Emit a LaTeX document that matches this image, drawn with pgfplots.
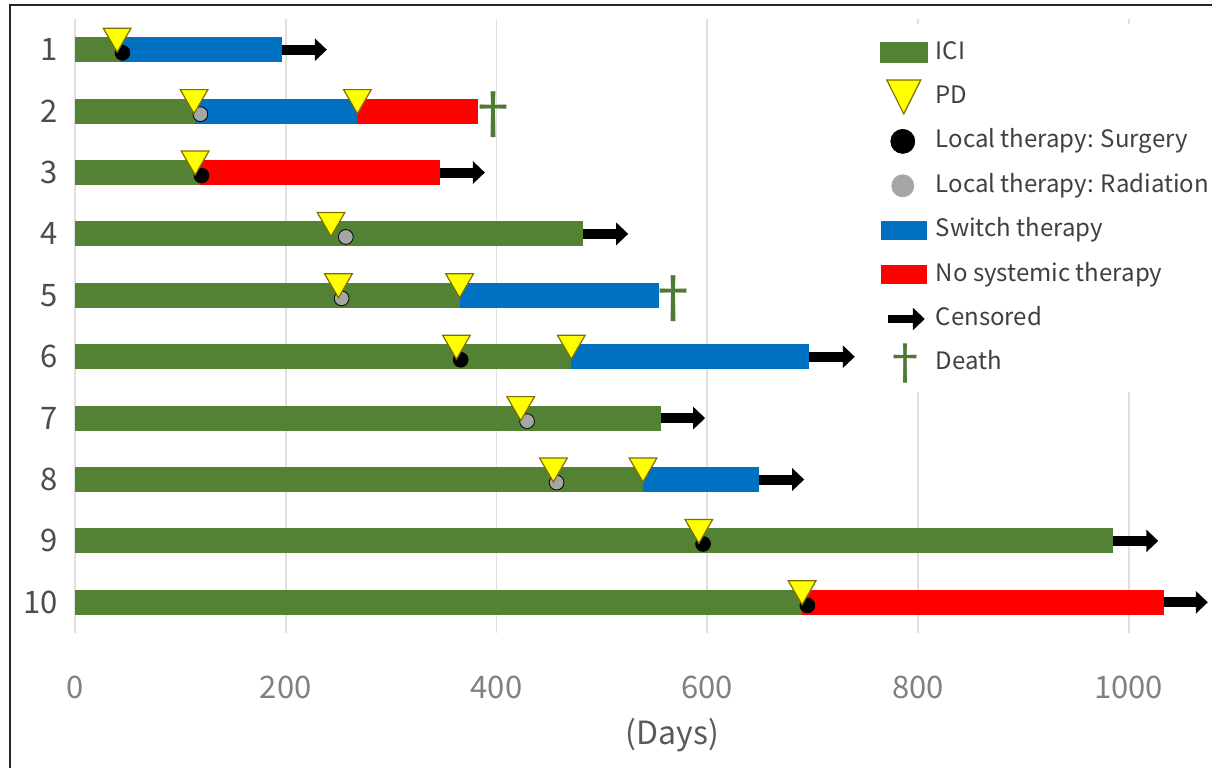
\documentclass[border=0pt]{standalone}
\usepackage{fontspec}
\setmainfont{Noto Sans CJK JP}
\usepackage{pgfplots}
\pgfplotsset{compat=1.18}
\usetikzlibrary{arrows.meta}
\definecolor{icigreen}{HTML}{548235}
\definecolor{swblue}{HTML}{0070C0}
\definecolor{nored}{HTML}{FF0000}
\definecolor{pdyellow}{HTML}{FFFF00}
\definecolor{pdedge}{HTML}{7F6F00}
\definecolor{radgray}{HTML}{A6A6A6}
\definecolor{deathgreen}{HTML}{4E7A34}
\begin{document}
\begin{tikzpicture}
\useasboundingbox (-37.5pt,-67pt) rectangle (568.5pt,316.5pt);
\draw[line width=1pt, black!85] (-32.5pt,-80pt) -- (-32.5pt,314pt) -- (620pt,314pt);
\begin{axis}[
  at={(0pt,0pt)}, anchor=south west,
  scale only axis, width=558.5pt, height=307pt,
  xmin=0, xmax=1060, ymin=0.5, ymax=10.5, y dir=reverse,
  axis line style={draw=none}, major tick length=0pt,
  xtick={0,200,...,1000}, ytick={1,...,10},
  xmajorgrids, major grid style={color=black!12, line width=0.8pt},
  /pgf/number format/assume math mode=true, /pgf/number format/1000 sep={},
  xticklabel style={font=\fontsize{15.5}{18}\selectfont, text=black!50, anchor=center, yshift=-27pt, inner sep=0pt},
  yticklabel style={font=\fontsize{15.5}{18}\selectfont, text=black!70, anchor=east, xshift=-8.5pt, inner sep=0pt},
  xlabel={(Days)}, xlabel style={at={(axis description cs:0.535,-0.166)}, anchor=center, font=\fontsize{16}{19}\selectfont, text=black!65},
  clip=false,
  legend style={at={(axis description cs:0.7153,0.9919)}, anchor=north west, draw=none, fill=white,
    inner sep=3pt, row sep=0pt, column sep=3pt, font=\fontsize{12}{14}\selectfont, text=black!75,
    nodes={inner sep=0pt, text height=9.5pt, text depth=3pt, minimum height=22.2pt}},
  legend cell align=left,
]
% ICI
\addplot[forget plot, draw=icigreen, line width=12.5pt, line cap=butt, unbounded coords=jump] coordinates {
 (0,1) (43,1) (nan,1)
 (0,2) (114,2) (nan,2)
 (0,3) (119,3) (nan,3)
 (0,4) (482,4) (nan,4)
 (0,5) (365,5) (nan,5)
 (0,6) (471,6) (nan,6)
 (0,7) (556,7) (nan,7)
 (0,8) (539,8) (nan,8)
 (0,9) (985,9) (nan,9)
 (0,10) (690,10)
};
% Switch therapy
\addplot[forget plot, draw=swblue, line width=12.5pt, line cap=butt, unbounded coords=jump] coordinates {
 (43,1) (196,1) (nan,1)
 (114,2) (268,2) (nan,2)
 (365,5) (554,5) (nan,5)
 (471,6) (697,6) (nan,6)
 (539,8) (649,8)
};
% No systemic therapy
\addplot[forget plot, draw=nored, line width=12.5pt, line cap=butt, unbounded coords=jump] coordinates {
 (268,2) (382,2) (nan,2)
 (119,3) (346,3) (nan,3)
 (690,10) (1033,10)
};
% Censored arrows
\addplot[forget plot, black, line width=5pt, line cap=butt,
  quiver={u=\thisrow{u}, v=\thisrow{v}}, -{Triangle[length=6pt 0,width=11pt 0]}] table {
x y u v
196 1 43 0
346 3 43 0
482 4 43 0
697 6 43 0
556 7 42 0
649 8 43 0
985 9 43 0
1033 10 42 0
};
% Surgery
\addplot[forget plot, only marks, mark=*, mark size=3.7pt, mark options={fill=black, draw=none}] coordinates {
 (45,1.05) (120,3.05) (366,6.05) (596,9.05) (695,10.05)
};
% Radiation
\addplot[forget plot, only marks, mark=*, mark size=3.7pt, mark options={fill=radgray, draw=none}] coordinates {
 (119,2.05) (257,4.05) (253,5.05) (429,7.05) (457,8.05)
};
% PD
\addplot[forget plot, only marks, mark=triangle*, mark size=8pt, mark options={fill=pdyellow, draw=pdedge, line width=0.6pt, rotate=180}] coordinates {
 (40,0.78) (113,1.78) (268,1.78) (114,2.78) (243,3.78) (250,4.78) (365,4.78)
 (362,5.78) (471,5.78) (423,6.78) (454,7.78) (539,7.78) (592,8.78) (690,9.78)
};
% Death
\addplot[forget plot, only marks, mark=text, text mark={\fontsize{28}{28}\selectfont\textcolor{deathgreen}{†}}] coordinates {
 (397,2.05) (568,5.05)
};
% Legend
\addlegendimage{legend image code/.code={\fill[icigreen] (0pt,-5pt) rectangle (23.5pt,5pt);}}
\addlegendentry{ICI}
\addlegendimage{legend image code/.code={\draw[fill=pdyellow, draw=pdedge, line width=0.6pt] (3pt,8.5pt) -- (20pt,8.5pt) -- (11.5pt,-8.5pt) -- cycle;}}
\addlegendentry{PD}
\addlegendimage{legend image code/.code={\fill[black] (11pt,0pt) circle (6pt);}}
\addlegendentry{Local therapy: Surgery}
\addlegendimage{legend image code/.code={\fill[radgray] (11pt,0pt) circle (5.5pt);}}
\addlegendentry{Local therapy: Radiation}
\addlegendimage{legend image code/.code={\fill[swblue] (0.5pt,-4.5pt) rectangle (23pt,4.5pt);}}
\addlegendentry{Switch therapy}
\addlegendimage{legend image code/.code={\fill[nored] (0.5pt,-4.5pt) rectangle (23pt,4.5pt);}}
\addlegendentry{No systemic therapy}
\addlegendimage{legend image code/.code={\draw[black, line width=4pt, line cap=butt, -{Triangle[length=6pt 0,width=11pt 0]}] (3.5pt,0pt) -- (22pt,0pt);}}
\addlegendentry{Censored}
\addlegendimage{legend image code/.code={\node[anchor=center, inner sep=0pt, text height={}, text depth={}, minimum height=0pt, text=deathgreen, font=\fontsize{24}{24}\selectfont] at (12.5pt,0pt) {†};}}
\addlegendentry{Death}
\end{axis}
\end{tikzpicture}
\end{document}
